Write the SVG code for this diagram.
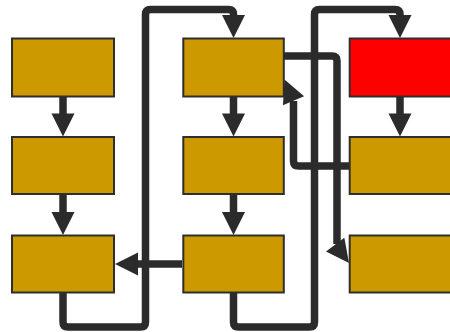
<svg xmlns="http://www.w3.org/2000/svg" xmlns:xlink="http://www.w3.org/1999/xlink" width="450" height="332" viewBox="0 0 450 332">
  <style>
    .node { fill: #cc9900; stroke: #2e2e2e; stroke-width: 2; }
    .node.hot { fill: #ff0000; }
    .edge { fill: none; stroke: #2b2b2b; stroke-width: 7.5; stroke-linejoin: round; }
    .head { fill: #2b2b2b; }
  </style>
  <defs>
    <!-- arrowhead pointing along +x, tip at the origin -->
    <path id="ah" class="head" d="M0 0 L-23 -11.5 L-23 11.5 Z"/>
  </defs>
  <rect width="450" height="332" fill="#ffffff"/>

  <g id="connectors">
    <!-- column 1 chain -->
    <path class="edge" d="M63 97 V114"/>
    <use xlink:href="#ah" transform="translate(63 136.5) rotate(90)"/>
    <path class="edge" d="M63 195 V213"/>
    <use xlink:href="#ah" transform="translate(63 235) rotate(90)"/>

    <!-- column 2 chain -->
    <path class="edge" d="M233.5 97 V114"/>
    <use xlink:href="#ah" transform="translate(233.5 136.5) rotate(90)"/>
    <path class="edge" d="M233.5 195 V213"/>
    <use xlink:href="#ah" transform="translate(233.5 235) rotate(90)"/>

    <!-- column 3 chain -->
    <path class="edge" d="M400 97 V114"/>
    <use xlink:href="#ah" transform="translate(400 136.5) rotate(90)"/>

    <!-- loop from column 1 bottom to column 2 top -->
    <path class="edge" d="M63 293 V322 Q63 327 68 327 H140.5 Q145.5 327 145.5 322 V14.5 Q145.5 9.5 150.5 9.5 H228.5 Q233.5 9.5 233.5 14.5 V16"/>
    <use xlink:href="#ah" transform="translate(233.5 38) rotate(90)"/>

    <!-- loop from column 2 bottom to column 3 top -->
    <path class="edge" d="M233.5 293 V322 Q233.5 327 238.5 327 H309.5 Q314.5 327 314.5 322 V14.5 Q314.5 9.5 319.5 9.5 H395 Q400 9.5 400 14.5 V16"/>
    <use xlink:href="#ah" transform="translate(400 38) rotate(90)"/>

    <!-- column 2 top right to column 3 bottom left -->
    <path class="edge" d="M284 56 H332 Q337 56 337 61 V244"/>
    <use xlink:href="#ah" transform="translate(349 263) rotate(53)"/>

    <!-- column 3 middle left back to column 2 top right -->
    <path class="edge" d="M349 166 H298.5 Q293.5 166 293.5 161 V101"/>
    <use xlink:href="#ah" transform="translate(284.5 79.5) rotate(-113)"/>

    <!-- column 2 bottom to column 1 bottom -->
    <path class="edge" d="M182 264 H136"/>
    <use xlink:href="#ah" transform="translate(115 264) rotate(180)"/>
  </g>

  <g id="n1"><rect class="node" x="12" y="38.5" width="102" height="58"/></g>
  <g id="n2"><rect class="node" x="12" y="137" width="102" height="57"/></g>
  <g id="n3"><rect class="node" x="12" y="235.5" width="102" height="57"/></g>
  <g id="n4"><rect class="node" x="183.3" y="38.5" width="100.5" height="58"/></g>
  <g id="n5"><rect class="node" x="183.3" y="137" width="100.5" height="57"/></g>
  <g id="n6"><rect class="node" x="183.3" y="235.5" width="100.5" height="57"/></g>
  <g id="n7"><rect class="node hot" x="349.7" y="38.5" width="102" height="58"/></g>
  <g id="n8"><rect class="node" x="349.7" y="137" width="102" height="57"/></g>
  <g id="n9"><rect class="node" x="349.7" y="235.5" width="102" height="57"/></g>
</svg>
